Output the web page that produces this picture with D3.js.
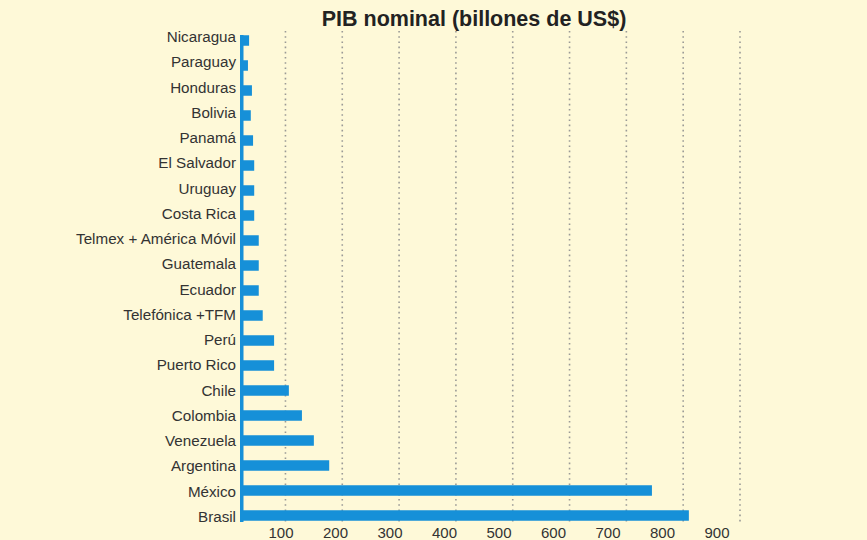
<!DOCTYPE html>
<html>
<head>
<meta charset="utf-8">
<script src="https://cdn.jsdelivr.net/npm/d3@7"></script>
<style>
  body { margin: 0; background: #fef9d8; }
  text { font-family: "Liberation Sans", Arial, Helvetica, sans-serif; fill: #333; }
</style>
</head>
<body>
<div id="chart"></div>
<script>
var categories = ["Nicaragua", "Paraguay", "Honduras", "Bolivia", "Panamá", "El Salvador",
  "Uruguay", "Costa Rica", "Telmex + América Móvil", "Guatemala", "Ecuador",
  "Telefónica +TFM", "Perú", "Puerto Rico", "Chile", "Colombia", "Venezuela",
  "Argentina", "México", "Brasil"];
var pib = [36, 34, 41, 39, 43, 45, 45, 45, 53, 53, 53, 60, 80, 80, 106, 129, 150, 177, 745, 810];
var tickValues = [100, 200, 300, 400, 500, 600, 700, 800, 900];
var title = "PIB nominal (billones de US$)";

var svgWidth = 867;
var svgHeight = 540;

var data = categories.map(function(c, i) { return { name: c, value: pib[i] }; });

var svg = d3.select("#chart")
  .append("svg")
  .attr("width", svgWidth)
  .attr("height", svgHeight);

svg.append("rect")
  .attr("width", svgWidth)
  .attr("height", svgHeight)
  .attr("fill", "#fef9d8");

// axis starts a little above zero, like the original drawing
var xScale = d3.scaleLinear()
  .domain([20, 900])
  .range([240, 740]);

var yScale = d3.scaleBand()
  .domain(categories)
  .range([28, 528])
  .paddingInner(0.58)
  .paddingOuter(0.29);

// the labels in the original are spaced a bit differently from the bars
var labelScale = d3.scalePoint()
  .domain(categories)
  .range([42, 522]);

var tickLabelScale = d3.scalePoint()
  .domain(tickValues)
  .range([281, 717]);

// dotted gridlines
svg.selectAll(".grid")
  .data(tickValues)
  .enter()
  .append("line")
  .attr("class", "grid")
  .attr("x1", d => xScale(d))
  .attr("x2", d => xScale(d))
  .attr("y1", 31)
  .attr("y2", 522)
  .attr("stroke", "#9a9a96")
  .attr("stroke-width", 1.6)
  .attr("stroke-dasharray", "1.6,3.6");

// bars
svg.selectAll(".bar")
  .data(data)
  .enter()
  .append("rect")
  .attr("class", "bar")
  .attr("x", xScale(20))
  .attr("y", d => yScale(d.name))
  .attr("width", d => xScale(d.value) - xScale(20))
  .attr("height", yScale.bandwidth())
  .attr("fill", "#1690d8");

// vertical axis line
svg.append("rect")
  .attr("x", xScale(20))
  .attr("y", 35)
  .attr("width", 3.5)
  .attr("height", 487)
  .attr("fill", "#1690d8");

// category labels
svg.selectAll(".label")
  .data(data)
  .enter()
  .append("text")
  .attr("class", "label")
  .attr("x", xScale(20) - 4)
  .attr("y", d => labelScale(d.name))
  .attr("text-anchor", "end")
  .style("font-size", "15.2px")
  .text(d => d.name);

// tick labels
svg.selectAll(".tick-label")
  .data(tickValues)
  .enter()
  .append("text")
  .attr("class", "tick-label")
  .attr("x", d => tickLabelScale(d))
  .attr("y", 538)
  .attr("text-anchor", "middle")
  .style("font-size", "15px")
  .text(d => d);

// title
svg.append("text")
  .attr("x", 474)
  .attr("y", 26)
  .attr("text-anchor", "middle")
  .style("font-size", "21.5px")
  .style("font-weight", "bold")
  .style("fill", "#222")
  .text(title);
</script>
</body>
</html>
